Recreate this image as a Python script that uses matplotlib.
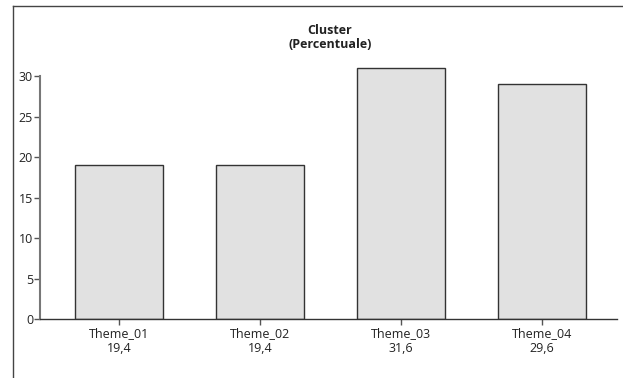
import matplotlib
matplotlib.use("Agg")
import matplotlib.pyplot as plt
from matplotlib.lines import Line2D

categories = ["Theme_01", "Theme_02", "Theme_03", "Theme_04"]
bar_heights = [19, 19, 31, 29]
pct_labels = ["19,4", "19,4", "31,6", "29,6"]
y_ticks = [0, 5, 10, 15, 20, 25, 30]

plt.rcParams['font.family'] = ['Open Sans', 'DejaVu Sans']
txt = "#222222"

fig = plt.figure(figsize=(6.23, 3.78), dpi=100)
W, H = 623, 378
ax = fig.add_axes([40 / W, 1 - 319 / H, (617 - 40) / W, (319 - 44) / H])

x = list(range(len(categories)))
ax.bar(x, bar_heights, width=0.624, color="#e1e1e1", edgecolor="#333333", linewidth=1.0)

ax.set_xlim(-0.56, 3.53)
ax.set_ylim(0, 34)
ax.set_yticks(y_ticks)
ax.set_yticklabels([str(v) for v in y_ticks], fontsize=9, color=txt)
ax.set_xticks(x)
ax.set_xticklabels([f"{c}\n{p}" for c, p in zip(categories, pct_labels)],
                   fontsize=9, color=txt, linespacing=1.2)
ax.tick_params(axis='y', length=4, width=1, color="#555555", pad=1)
ax.tick_params(axis='x', length=4, width=1, color="#555555", pad=2)

for s in ['top', 'right']:
    ax.spines[s].set_visible(False)
ax.spines['left'].set_bounds(0, 30)
ax.spines['left'].set_color("#777777")
ax.spines['left'].set_linewidth(1.5)
ax.spines['bottom'].set_color("#333333")
ax.spines['bottom'].set_linewidth(1.0)

fig.text(330 / W, 1 - 30 / H, "Cluster", ha='center', va='center',
         fontsize=9, fontweight='bold', color=txt)
fig.text(330 / W, 1 - 45 / H, "(Percentuale)", ha='center', va='center',
         fontsize=9, fontweight='bold', color=txt)

# outer frame (left and top edges)
fig.add_artist(Line2D([13 / W, 13 / W], [0, 1 - 6 / H], transform=fig.transFigure,
                      color="#444444", linewidth=1.0))
fig.add_artist(Line2D([13 / W, 1], [1 - 6 / H, 1 - 6 / H], transform=fig.transFigure,
                      color="#444444", linewidth=1.0))

fig.savefig("out.png", dpi=100, facecolor="white")
